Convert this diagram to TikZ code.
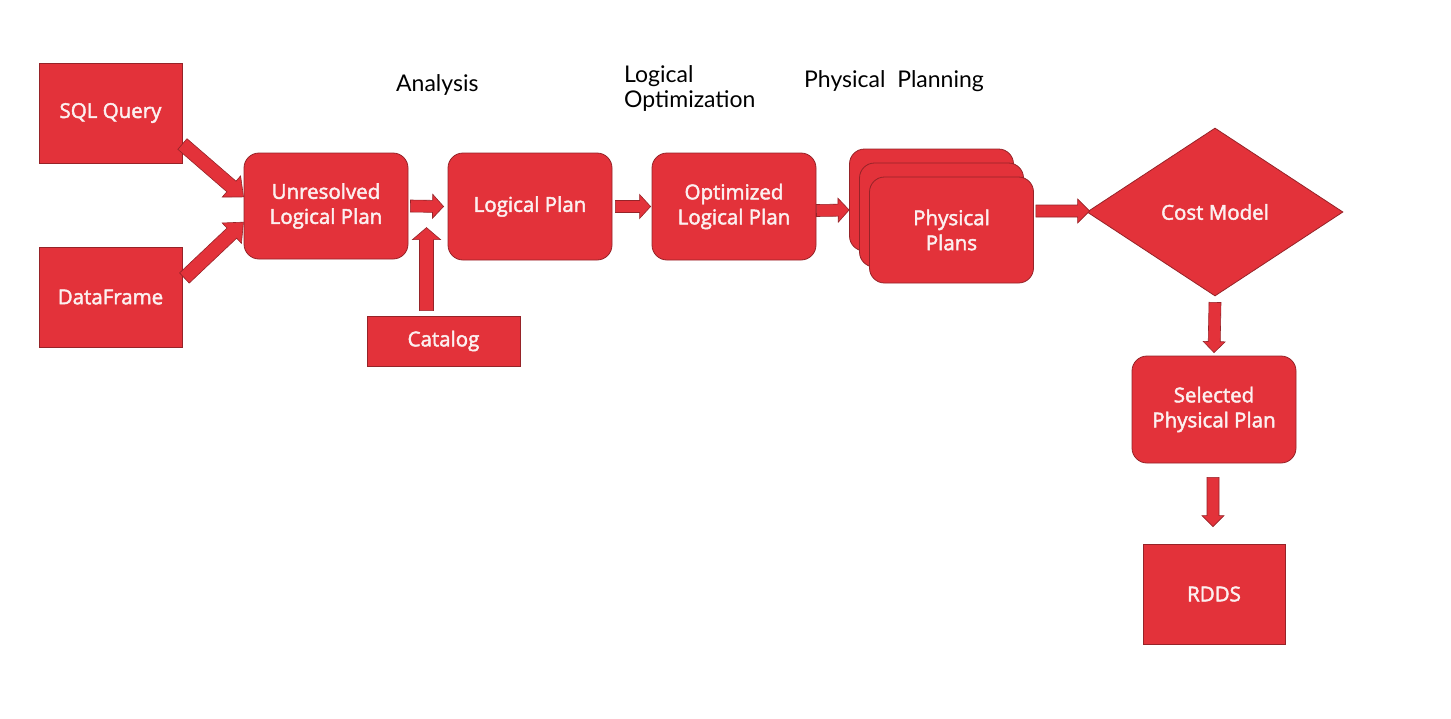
\documentclass[tikz,border=0pt]{standalone}
\usepackage{fontspec}
\setmainfont{Open Sans}
\newfontfamily\boxfont{Open Sans}[FakeBold=2.2]
\newfontfamily\labelfont{Lato}
\usetikzlibrary{calc,shapes.geometric}
\definecolor{boxred}{RGB}{227,50,58}
\definecolor{edgered}{RGB}{150,35,40}
\definecolor{txtw}{RGB}{252,240,240}
\tikzset{
  box/.style={draw=edgered, line width=0.8pt, fill=boxred, text=txtw, align=center, font=\boxfont\fontsize{20.5}{25}\selectfont, inner sep=0pt},
  sqbox/.style={box},
  rbox/.style={box, rounded corners=15pt},
  barr/.style={draw=edgered, line width=0.6pt, fill=boxred},
  lab/.style={font=\labelfont\fontsize{23}{25}\selectfont, text=black, align=left, inner sep=0pt}
}
% block arrow from #1 to #2, shaft half width #3, head half width #4, head length #5
\newcommand\barrow[5]{%
  \path[barr] let \p1=(#1), \p2=(#2), \n1={atan2(\y2-\y1,\x2-\x1)}, \n2={veclen(\x2-\x1,\y2-\y1)} in
    [shift={(\p1)}, rotate=\n1]
    (0pt,-#3pt) -- ({\n2-#5pt},-#3pt) -- ({\n2-#5pt},-#4pt) -- (\n2,0pt) -- ({\n2-#5pt},#4pt) -- ({\n2-#5pt},#3pt) -- (0pt,#3pt) -- cycle;}
\begin{document}
\begin{tikzpicture}[x=1pt,y=-1pt]
\useasboundingbox (0,0) rectangle (1451,718);
% nodes
\node[sqbox, minimum width=143pt, minimum height=100pt] (sql) at (110.5,113) {SQL Query};
\node[sqbox, minimum width=143pt, minimum height=100pt] (df) at (110.5,297) {DataFrame};
\node[rbox, minimum width=164pt, minimum height=106pt] (unres) at (326,206) {Unresolved\\Logical Plan};
\node[rbox, minimum width=164pt, minimum height=107pt] (lp) at (530,206.5) {Logical Plan};
\node[rbox, minimum width=164pt, minimum height=107pt] (olp) at (734,206.5) {Optimized\\Logical Plan};
\node[rbox, minimum width=164pt, minimum height=102pt] (phys3) at (931.5,200) {};
\node[rbox, minimum width=164pt, minimum height=104pt] (phys2) at (941.5,215) {};
\node[rbox, minimum width=164pt, minimum height=106pt] (phys) at (951.5,230) {Physical\\Plans};
\node[box, diamond, aspect=1.52, minimum width=256pt, minimum height=168pt] (cost) at (1215,212) {Cost Model};
\node[rbox, minimum width=164pt, minimum height=107pt] (sel) at (1214,409.5) {Selected\\Physical Plan};
\node[sqbox, minimum width=142pt, minimum height=100pt] (rdds) at (1214,594) {RDDS};
\node[sqbox, minimum width=153pt, minimum height=50pt] (cat) at (443.5,341) {Catalog};
% labels
\node[lab, anchor=west] (lan) at (396,85) {Analysis};
\node[lab, anchor=west] (llo) at (624,88) {Logical\\Optimization};
\node[lab, anchor=west] (lpp) at (804,81) {Physical\ \ Planning};
% arrow end points
\coordinate (a1s) at ($(sql.east)+(0,31)$);
\coordinate (a1e) at ($(unres.west)+(0,-9)$);
\coordinate (a2s) at ($(df.east)+(2,-19)$);
\coordinate (a2e) at ($(unres.west)+(0,16)$);
\coordinate (a3s) at ($(unres.east)+(2,0)$);
\coordinate (a3e) at ($(lp.west)+(-4,0)$);
\coordinate (a4s) at ($(cat.north)+(-17,-5)$);
\coordinate (a4e) at ($(cat.north)+(-17,-88)$);
\coordinate (a5s) at ($(lp.east)+(3,0)$);
\coordinate (a5e) at ($(olp.west)+(-1,0)$);
\coordinate (a6s) at ($(olp.east)+(0,4)$);
\coordinate (a6e) at ($(phys3.west)+(0,10)$);
\coordinate (a7s) at ($(phys.east)+(2,-19)$);
\coordinate (a7e) at ($(cost.west)+(3,-1)$);
\coordinate (a8s) at ($(cost.south)+(0,6)$);
\coordinate (a8e) at ($(sel.north)+(0,-3)$);
\coordinate (a9s) at ($(sel.south)+(-1,14)$);
\coordinate (a9e) at ($(rdds.north)+(-1,-17)$);
% arrows
\barrow{a1s}{a1e}{7}{14}{16}
\barrow{a2s}{a2e}{7}{14}{16}
\barrow{a3s}{a3e}{6}{12}{11}
\barrow{a4s}{a4e}{7}{14}{12}
\barrow{a5s}{a5e}{6}{12}{11}
\barrow{a6s}{a6e}{6}{12}{11}
\barrow{a7s}{a7e}{6}{12}{12}
\barrow{a8s}{a8e}{6}{11}{11}
\barrow{a9s}{a9e}{6}{11}{11}
\end{tikzpicture}
\end{document}
